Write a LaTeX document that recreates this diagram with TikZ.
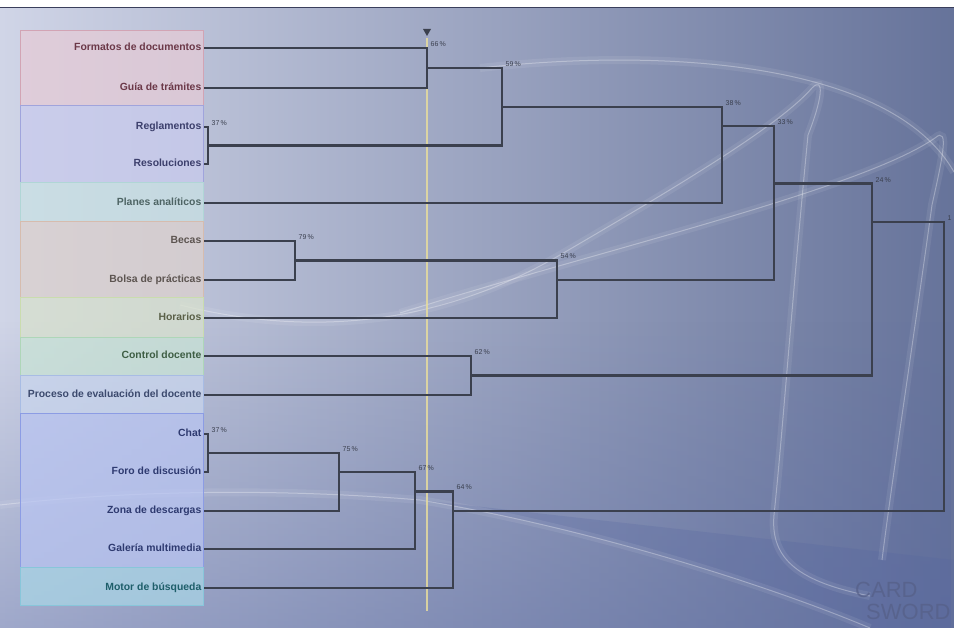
\documentclass[tikz,border=0pt]{standalone}
\usepackage{fontspec}
\setmainfont{Liberation Sans}
\usetikzlibrary{fadings}

% backdrop
\definecolor{bgleft}{HTML}{D0D5E7}
\definecolor{bgright}{HTML}{66739A}
\definecolor{bgdeep}{HTML}{5666A0}
\definecolor{rimline}{HTML}{3A3F5C}
\definecolor{markgray}{HTML}{566088}
% dendrogram
\definecolor{linkgray}{HTML}{3B404E}
\definecolor{pctgray}{HTML}{3A3F4E}
\definecolor{cutline}{HTML}{E6DC9E}
% group boxes (fill / border)
\definecolor{grpred}{HTML}{E6CBD6}   \definecolor{bdred}{HTML}{D2A4B4}
\definecolor{grpblue}{HTML}{C9CBEE}  \definecolor{bdblue}{HTML}{A0A4DC}
\definecolor{grpteal}{HTML}{C9E2E4}  \definecolor{bdteal}{HTML}{B0D6D6}
\definecolor{grptan}{HTML}{DDD1CD}   \definecolor{bdtan}{HTML}{D6BCAE}
\definecolor{grpolive}{HTML}{D9E2CD} \definecolor{bdolive}{HTML}{CADCAE}
\definecolor{grpgreen}{HTML}{C9E4D5} \definecolor{bdgreen}{HTML}{AED6B8}
\definecolor{grpsky}{HTML}{C9D6EE}   \definecolor{bdsky}{HTML}{A8BCE4}
\definecolor{grpchat}{HTML}{B9C5F2}  \definecolor{bdchat}{HTML}{8C9CE4}
\definecolor{grpcyan}{HTML}{A9D6E6}  \definecolor{bdcyan}{HTML}{88C6DA}
% label texts
\definecolor{txtred}{HTML}{6B3848}
\definecolor{txtnavy}{HTML}{3C3F6C}
\definecolor{txtteal}{HTML}{4E6464}
\definecolor{txtbrown}{HTML}{5C5450}
\definecolor{txtolive}{HTML}{5A6048}
\definecolor{txtgreen}{HTML}{3E5E44}
\definecolor{txtslate}{HTML}{3C4A6E}
\definecolor{txtchat}{HTML}{2E3A70}
\definecolor{txtcyan}{HTML}{1E5E6A}

\begin{document}
\begin{tikzpicture}[x=1pt, y=-1pt,
	leaf/.style={anchor=east, inner xsep=2.5pt, inner ysep=0pt, text height=7.5pt, text depth=2pt, font=\fontsize{10.4}{12}\selectfont\bfseries},
	link/.style={draw=linkgray, line width=2.3pt},
	pct/.style={anchor=west, inner sep=0pt, font=\fontsize{7}{8}\selectfont, text=pctgray},
	grp/.style={line width=0.7pt, fill opacity=0.72},
	swoosh/.style={draw=white, line width=1pt, draw opacity=0.3},
	glow/.style={draw=white, line width=8pt, draw opacity=0.08},
	wmark/.style={anchor=south west, inner sep=0pt, text=markgray, opacity=0.75, font=\fontsize{22}{22}\selectfont}]
	\useasboundingbox (0,0) rectangle (954,628);
	\clip (0,0) rectangle (954,628);

	% background with light ribbons
	\fill[white] (0,0) rectangle (954,8);
	\shade[left color=bgleft, right color=bgright] (0,8) rectangle (954,628);
	\fill[bgdeep, path fading=north, opacity=0.4] (0,320) rectangle (954,628);
	\fill[bgdeep, opacity=0.25] (420,500) .. controls (600,530) and (780,590) .. (870,628) -- (954,628) -- (954,560) -- cycle;
	\draw[rimline, line width=1pt] (0,8) -- (954,8);
	\foreach \st in {glow,swoosh} {
		\draw[\st] (180,305) .. controls (300,335) and (430,330) .. (560,255) .. controls (680,185) and (780,125) .. (812,88)
			.. controls (825,75) and (822,100) .. (808,135) .. controls (792,300) and (782,440) .. (774,515)
			.. controls (770,560) and (800,582) .. (870,596);
		\draw[\st] (400,313) .. controls (600,250) and (860,190) .. (935,138) .. controls (950,125) and (942,160) .. (932,205)
			.. controls (912,350) and (892,480) .. (882,560);
		\draw[\st] (480,68) .. controls (660,48) and (890,60) .. (954,172);
		\draw[\st] (0,505) .. controls (150,488) and (300,490) .. (420,500) .. controls (600,530) and (780,590) .. (870,628);
	}

	% group boxes behind the labels
	\foreach \t/\b/\col in {30/105/red, 105/182/blue, 182/221/teal, 221/297/tan, 297/337/olive,
		337/375/green, 375/413/sky, 413/567/chat, 567/605/cyan} {
		\draw[grp, draw=bd\col, fill=grp\col] (20,\t) rectangle (203,\b);
	}

	% cut line with its marker
	\draw[cutline, line width=1.3pt, opacity=0.85] (427,38) -- (427,611);
	\fill[linkgray] (423,29) -- (431,29) -- (427,36) -- cycle;

	% leaves
	\foreach \nm/\y/\col/\txt in {formatos/48/red/Formatos de documentos, guia/88/red/Guía de trámites,
		reglamentos/127/navy/Reglamentos, resoluciones/164/navy/Resoluciones, planes/203/teal/Planes analíticos,
		becas/241/brown/Becas, bolsa/280/brown/Bolsa de prácticas, horarios/318/olive/Horarios,
		control/356/green/Control docente, proceso/395/slate/Proceso de evaluación del docente,
		chat/434/chat/Chat, foro/472/chat/Foro de discusión, zona/511/chat/Zona de descargas,
		galeria/549/chat/Galería multimedia, motor/588/cyan/Motor de búsqueda} {
		\node[leaf, text=txt\col] (\nm) at (204,\y) {\txt};
	}

	% merge points: name / x / y of the joint / y of the upper child / similarity
	\foreach \nm/\x/\y/\t/\p in {m66/427/68/48/66, m37a/208/145.5/127/37, m59/502/106.75/68/59,
		m38/722/126/106.75/38, m79/295/260.5/241/79, m54/557/279.7/260.5/54, m33/774/183.6/126/33,
		m62/471/375.5/356/62, m24/872/222/183.6/24, m37b/208/453/434/37, m75/339/472.3/453/75,
		m67/415/491.5/472.3/67, m64/453/510.8/491.5/64} {
		\coordinate (\nm) at (\x,\y);
		\node[pct] at (\x+3.5,\t-4) {\p\,\%};
	}
	\coordinate (root) at (944,318);
	\node[pct] at (947.5,218) {1};

	% links
	\draw[link] (formatos.east) -| (m66);
	\draw[link] (guia.east) -| (m66);
	\draw[link] (reglamentos.east) -| (m37a);
	\draw[link] (resoluciones.east) -| (m37a);
	\draw[link] (m66) -| (m59);
	\draw[link] (m37a) -| (m59);
	\draw[link] (m59) -| (m38);
	\draw[link] (planes.east) -| (m38);
	\draw[link] (becas.east) -| (m79);
	\draw[link] (bolsa.east) -| (m79);
	\draw[link] (m79) -| (m54);
	\draw[link] (horarios.east) -| (m54);
	\draw[link] (m38) -| (m33);
	\draw[link] (m54) -| (m33);
	\draw[link] (control.east) -| (m62);
	\draw[link] (proceso.east) -| (m62);
	\draw[link] (m33) -| (m24);
	\draw[link] (m62) -| (m24);
	\draw[link] (chat.east) -| (m37b);
	\draw[link] (foro.east) -| (m37b);
	\draw[link] (m37b) -| (m75);
	\draw[link] (zona.east) -| (m75);
	\draw[link] (m75) -| (m67);
	\draw[link] (galeria.east) -| (m67);
	\draw[link] (m67) -| (m64);
	\draw[link] (motor.east) -| (m64);
	\draw[link] (m24) -| (root);
	\draw[link] (m64) -| (root);

	% watermark
	\node[wmark] (card) at (855,598) {CARD};
	\node[wmark] (sword) at (866,620) {SWORD};
\end{tikzpicture}
\end{document}
